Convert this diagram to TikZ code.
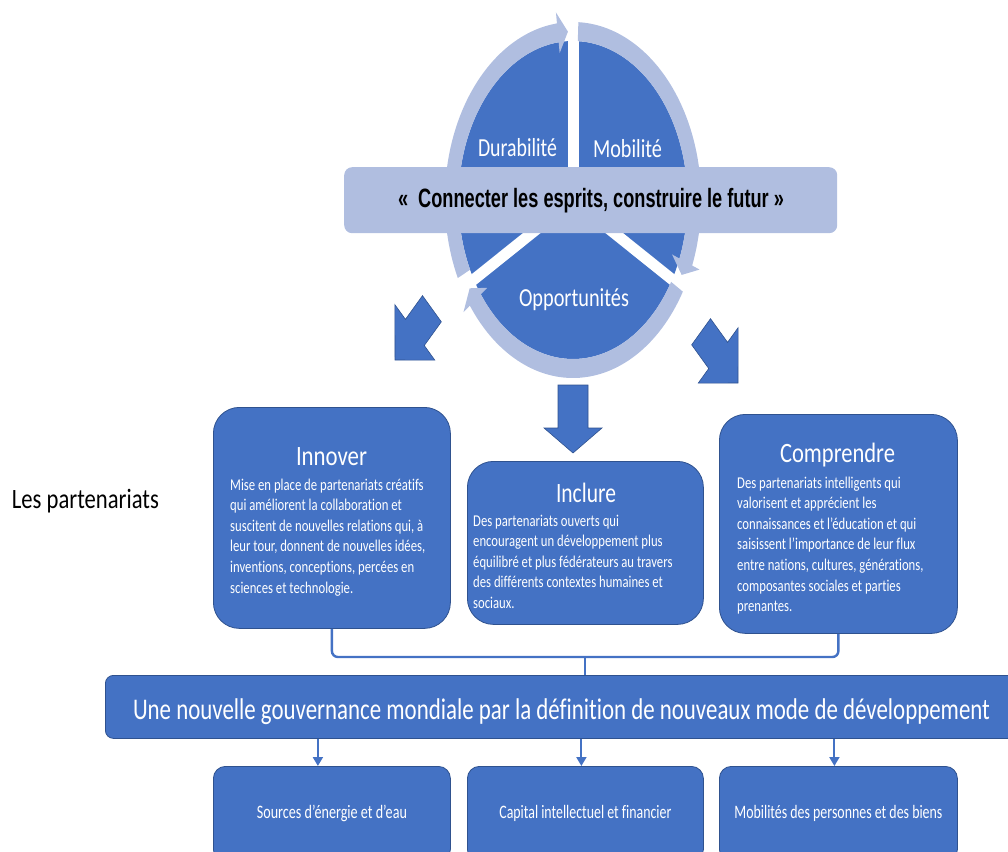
\documentclass[tikz,border=0pt]{standalone}
\usepackage{fontspec}
\setmainfont{Carlito}[Ligatures=CommonOff]
\newfontfamily\bannerfont{Liberation Sans}
\usepackage{graphicx}
\usepackage{xcolor}
\usepackage{tikz}
\usetikzlibrary{arrows.meta,
positioning,
calc
}
\tikzset{>={Triangle[width=10pt, length=9pt]}}
\definecolor{BoxBlue}{RGB}{68,114,196}
\definecolor{EdgeBlue}{RGB}{47,82,143}
\definecolor{RingBlue}{RGB}{176,190,224}
\tikzset{
  bigbox/.style={draw=EdgeBlue, line width=0.8pt, fill=BoxBlue, rounded corners=26pt, anchor=north west, inner sep=0pt},
  smallbox/.style={draw=EdgeBlue, line width=0.8pt, fill=BoxBlue, rounded corners=12pt, anchor=north west, inner sep=0pt},
  boxtitle/.style={anchor=base, inner sep=0pt, text=white, font=\fontsize{28}{32}\selectfont},
  boxbody/.style={anchor=base west, inner sep=0pt, text=white},
  cyclelabel/.style={anchor=base, inner sep=0pt, text=white, font=\fontsize{26}{30}\selectfont},
  link/.style={BoxBlue, line width=2.4pt},
  blockarrow/.style={fill=BoxBlue, draw=EdgeBlue, line width=0.6pt}
}
\newcommand{\squeeze}[2]{\resizebox{#1pt}{\height}{#2}}
\newcommand{\bodylines}[1]{\scalebox{0.77}[1]{\fontsize{16.5}{20.6}\selectfont\begin{tabular}[t]{@{}l@{}}#1\end{tabular}}}

\begin{document}
\begin{tikzpicture}[x=1pt, y=-1pt]
  \useasboundingbox (0, 0) rectangle (1008, 851);

  \begin{scope}[shift={(573, 200)}, xscale=0.72, yscale=-1]
    \fill[BoxBlue] (0, 0) -- (90:159) arc[start angle=90, end angle=210, radius=159] -- cycle;
    \fill[BoxBlue] (0, 0) -- (-30:159) arc[start angle=-30, end angle=90, radius=159] -- cycle;
    \fill[BoxBlue] (0, 0) -- (210:159) arc[start angle=210, end angle=330, radius=159] -- cycle;
    \foreach \a in {90, 210, 330}
      \draw[white, line width=11pt] (0, 0) to (\a:162);
    \foreach \s/\e in {206/92.4, 87.6/-26.4, -31/-148.4} {
      \pgfmathsetmacro{\headang}{\e + 4.8}
      \fill[RingBlue] (\s:178) arc[start angle=\s, end angle=\headang, radius=178]
        -- (\headang:189) -- (\e:168.5) -- (\headang:148) -- (\headang:159)
        arc[start angle=\headang, end angle=\s, radius=159] -- cycle;
    }
  \end{scope}

  \node[cyclelabel] (durabilite) at (517.5, 156.7) {\squeeze{79}{Durabilité}};
  \node[cyclelabel] (mobilite) at (627.5, 157) {\squeeze{69}{Mobilité}};
  \node[cyclelabel] (opportunites) at (574, 306.5) {\squeeze{110}{Opportunités}};

  \node[fill=RingBlue, rounded corners=8pt, minimum width=493, minimum height=66, anchor=north west, inner sep=0pt] (banner) at (344, 167) {};
  \node[anchor=base, inner sep=0pt, font=\bannerfont\bfseries\fontsize{26.5}{30}\selectfont] (motto) at (591, 207) {\squeeze{386}{«\ \ Connecter les esprits, construire le futur »}};

  \foreach \px/\py/\ang in {395/360/225, 738/383/-45} {
    \begin{scope}[shift={(\px, \py)}, xscale=0.72, rotate=\ang, yscale=-1]
      \draw[blockarrow] (0, 0) -- (-39, 39.25) -- (-39, 18.5) -- (-72.5, 18.5) -- (-72.5, -18.5) -- (-39, -18.5) -- (-39, -39.25) -- cycle;
    \end{scope}
  }
  \draw[blockarrow] (558, 385) -- (588, 385) -- (588, 428) -- (602, 428) -- (573, 453) -- (544, 428) -- (558, 428) -- cycle;

  \node[anchor=base west, inner sep=0pt, font=\fontsize{28}{32}\selectfont] (partenariats) at (11.7, 508) {\squeeze{147}{Les partenariats}};

  \node[bigbox, minimum width=237, minimum height=221] (innover) at (213, 407) {};
  \node[bigbox, minimum width=236, minimum height=163] (inclure) at (467, 461) {};
  \node[bigbox, minimum width=238, minimum height=219] (comprendre) at (719, 414) {};

  \node[boxtitle] (innovertitle) at (331.5, 465) {\squeeze{71}{Innover}};
  \node[boxtitle] (inclureTitle) at (586, 502) {\squeeze{60}{Inclure}};
  \node[boxtitle] (comprendretitle) at (837.5, 462) {\squeeze{115}{Comprendre}};

  \node[boxbody] (innovertext) at (230, 490) {\bodylines{Mise en place de partenariats créatifs\\qui améliorent la collaboration et\\suscitent de nouvelles relations qui, à\\leur tour, donnent de nouvelles idées,\\inventions, conceptions, percées en\\sciences et technologie.}};
  \node[boxbody] (inclureText) at (473, 526) {\bodylines{Des partenariats ouverts qui\\encouragent un développement plus\\équilibré et plus fédérateurs au travers\\des différents contextes humaines et\\sociaux.}};
  \node[boxbody] (comprendretext) at (737, 488) {\bodylines{Des partenariats intelligents qui\\valorisent et apprécient les\\connaissances et l’éducation et qui\\saisissent l’importance de leur flux\\entre nations, cultures, générations,\\composantes sociales et parties\\prenantes.}};

  \coordinate (join) at (585, 657);
  \draw[link, rounded corners=6pt] (innover.south) |- (join) -| (comprendre.south);

  \node[smallbox, rounded corners=8pt, minimum width=910, minimum height=63] (gov) at (105, 675) {};
  \draw[link] (join) to (join |- gov.north);
  \node[anchor=base, inner sep=0pt, text=white, font=\fontsize{30}{36}\selectfont] (govtext) at (561.5, 719) {\squeeze{857}{Une nouvelle gouvernance mondiale par la définition de nouveaux mode de développement}};

  \node[smallbox, minimum width=237, minimum height=95, text=white, font=\fontsize{19}{23}\selectfont] (sources) at (213, 766) {\squeeze{150}{Sources d’énergie et d’eau}};
  \node[smallbox, minimum width=236, minimum height=95, text=white, font=\fontsize{19}{23}\selectfont] (capital) at (467, 766) {\squeeze{172}{Capital intellectuel et financier}};
  \node[smallbox, minimum width=238, minimum height=95, text=white, font=\fontsize{19}{23}\selectfont] (mobilites) at (719, 766) {\squeeze{208}{Mobilités des personnes et des biens}};

  \foreach \target/\dx in {sources/-14, capital/-4, mobilites/-4} {
    \coordinate (\target-in) at ([xshift=\dx pt]\target.north);
    \draw[link, line width=2pt, ->] (gov.south -| \target-in) to (\target-in);
  }
\end{tikzpicture}
\end{document}
